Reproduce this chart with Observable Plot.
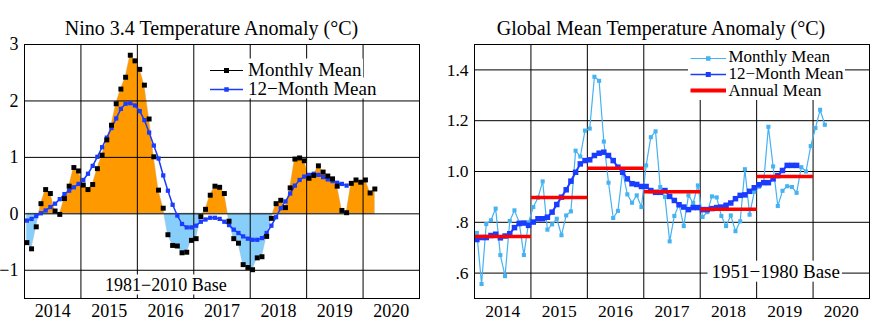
<!DOCTYPE html>
<html><head><meta charset="utf-8">
<script src="https://cdn.jsdelivr.net/npm/d3@7"></script>
<script src="https://cdn.jsdelivr.net/npm/@observablehq/plot@0.6"></script>
<style>
body{margin:0;background:#fff;}
#wrap{display:flex;width:896px;height:321px;overflow:hidden;}
#wrap svg{display:block;}
</style></head><body><div id="wrap"></div>
<script>
const FONT = "'Liberation Serif','Times New Roman',Times,serif";
const startYear = 2014;
const yearTicks = [2014, 2015, 2016, 2017, 2018, 2019, 2020];
const yearGrid = [2015, 2016, 2017, 2018, 2019, 2020];

// Nino 3.4 monthly anomaly, Jan 2014 - Mar 2020
const ninoMonthly = [
  -0.51, -0.62, -0.23, 0.18, 0.43, 0.36, 0.05, -0.01, 0.27, 0.49, 0.82, 0.76,
  0.51, 0.43, 0.52, 0.80, 1.04, 1.31, 1.57, 1.95, 2.21, 2.42, 2.81, 2.71,
  2.56, 2.28, 1.68, 1.01, 0.42, 0.10, -0.37, -0.56, -0.57, -0.69, -0.68, -0.47,
  -0.44, -0.05, 0.08, 0.33, 0.49, 0.47, 0.36, -0.13, -0.44, -0.52, -0.90, -0.95,
  -0.99, -0.78, -0.76, -0.40, -0.08, 0.18, 0.24, 0.11, 0.46, 0.97, 0.99, 0.94,
  0.63, 0.68, 0.85, 0.74, 0.67, 0.62, 0.49, 0.06, 0.02, 0.54, 0.60, 0.56,
  0.60, 0.37, 0.44
];
// Nino 3.4 12-month running mean, Jan 2014 - Sep 2019
const nino12 = [
  -0.12, -0.09, -0.04, 0.01, 0.06, 0.12, 0.18, 0.26, 0.35, 0.41, 0.47, 0.53,
  0.60, 0.71, 0.85, 1.01, 1.18, 1.35, 1.52, 1.69, 1.86, 1.95, 1.96, 1.92,
  1.82, 1.66, 1.44, 1.21, 0.98, 0.68, 0.41, 0.16, -0.03, -0.18, -0.24, -0.24,
  -0.21, -0.14, -0.10, -0.07, -0.07, -0.09, -0.14, -0.20, -0.28, -0.34, -0.40, -0.44,
  -0.46, -0.46, -0.43, -0.34, -0.21, -0.06, 0.10, 0.22, 0.36, 0.50, 0.60, 0.66,
  0.69, 0.71, 0.69, 0.65, 0.61, 0.58, 0.55, 0.53, 0.50
];
// Global mean monthly anomaly, Jan 2014 - Mar 2020
const globalMonthly = [
  0.758, 0.557, 0.793, 0.808, 0.854, 0.671, 0.588, 0.805, 0.847, 0.800, 0.671, 0.800,
  0.860, 0.897, 0.961, 0.771, 0.792, 0.814, 0.749, 0.827, 0.843, 1.082, 1.059, 1.161,
  1.169, 1.373, 1.357, 1.118, 0.956, 0.817, 0.845, 1.000, 0.910, 0.877, 0.906, 0.860,
  1.024, 1.135, 1.158, 0.939, 0.900, 0.725, 0.825, 0.871, 0.785, 0.906, 0.876, 0.945,
  0.821, 0.840, 0.902, 0.898, 0.825, 0.785, 0.827, 0.765, 0.804, 1.009, 0.830, 0.920,
  0.940, 0.958, 1.176, 1.020, 0.864, 0.924, 0.942, 0.939, 0.916, 1.017, 1.000, 1.100,
  1.171, 1.243, 1.184
];
// Global 12-month running mean
const global12 = [
  0.732, 0.740, 0.740, 0.748, 0.753, 0.739, 0.746, 0.755, 0.779, 0.795, 0.797, 0.788,
  0.801, 0.814, 0.814, 0.820, 0.840, 0.870, 0.899, 0.928, 0.962, 0.997, 1.030, 1.043,
  1.046, 1.063, 1.072, 1.076, 1.063, 1.043, 1.017, 0.997, 0.971, 0.952, 0.949, 0.941,
  0.941, 0.925, 0.918, 0.918, 0.925, 0.902, 0.886, 0.869, 0.860, 0.850, 0.858, 0.858,
  0.850, 0.850, 0.854, 0.858, 0.860, 0.867, 0.876, 0.893, 0.906, 0.908, 0.922, 0.936,
  0.948, 0.956, 0.956, 0.971, 0.984, 1.004, 1.024, 1.024, 1.024
];
// Global annual means
const annualYears = [2014, 2015, 2016, 2017, 2018, 2019];
const globalAnnual = [0.744, 0.898, 1.013, 0.920, 0.851, 0.980];

const ninoYTicks = [-1, 0, 1, 2, 3];
const globalYTicks = [0.6, 0.8, 1.0, 1.2, 1.4];

const monthly = arr => arr.map((v, i) => ({t: startYear + (i + 0.5) / 12, v}));
function splitSign(rows) {
  const pos = [], neg = [];
  rows.forEach((r, i) => {
    if (i > 0) {
      const p = rows[i - 1];
      if ((p.v > 0 && r.v < 0) || (p.v < 0 && r.v > 0)) {
        const tc = p.t + (r.t - p.t) * p.v / (p.v - r.v);
        pos.push({t: tc, v: 0}); neg.push({t: tc, v: 0});
      }
    }
    pos.push({t: r.t, v: Math.max(r.v, 0)});
    neg.push({t: r.t, v: Math.min(r.v, 0)});
  });
  return {pos, neg};
}

const nm = monthly(ninoMonthly), n12 = monthly(nino12);
const {pos, neg} = splitSign(nm);
const gm = monthly(globalMonthly), g12 = monthly(global12);
const ga = annualYears.map((y, i) => ({a: y, b: y + 1, v: globalAnnual[i]}));

const BLUE = "#1a3cff", LBLUE = "#45b2f2";

const left = Plot.plot({
  width: 440, height: 321,
  marginLeft: 24, marginRight: 21, marginTop: 44, marginBottom: 23,
  style: {fontFamily: FONT, fontSize: "18px", color: "black", background: "white"},
  x: {domain: [2014, 2021]},
  y: {domain: [-1.5, 3]},
  marks: [
    Plot.areaY(pos, {x: "t", y: "v", fill: "#ff9900", stroke: "#c8a070", strokeWidth: 0.4}),
    Plot.areaY(neg, {x: "t", y: "v", fill: "#87cefa", stroke: "#a0b8c8", strokeWidth: 0.4}),
    Plot.gridX(yearGrid, {stroke: "black", strokeOpacity: 1}),
    Plot.gridY(ninoYTicks, {stroke: "black", strokeOpacity: 1}),
    Plot.axisX(yearTicks.map(y => y + 0.5), {tickSize: 0, tickPadding: 6, label: null, fontSize: 18,
      tickFormat: d => String(Math.floor(d))}),
    Plot.axisY(ninoYTicks, {tickSize: 0, tickPadding: 6, label: null, fontSize: 18,
      tickFormat: d => d < 0 ? "\u2212" + Math.abs(d) : String(d)}),
    Plot.line(n12, {x: "t", y: "v", stroke: BLUE, strokeWidth: 1.5}),
    Plot.dot(n12, {x: "t", y: "v", symbol: "square", r: 2.4, fill: BLUE}),
    Plot.dot(nm, {x: "t", y: "v", symbol: "square", r: 2.8, fill: "black"}),
    Plot.frame({stroke: "black"}),
    Plot.text(["Nino 3.4 Temperature Anomaly (\u00B0C)"], {frameAnchor: "top", dx: -10.5, dy: -10,
      lineAnchor: "bottom", fontSize: 20})
  ]
});

const right = Plot.plot({
  width: 456, height: 321,
  marginLeft: 34, marginRight: 27, marginTop: 44, marginBottom: 23,
  style: {fontFamily: FONT, fontSize: "18px", color: "black", background: "white"},
  x: {domain: [2014, 2021]},
  y: {domain: [0.5, 1.5]},
  marks: [
    Plot.gridX(yearGrid, {stroke: "black", strokeOpacity: 1}),
    Plot.gridY(globalYTicks, {stroke: "black", strokeOpacity: 1}),
    Plot.axisX(yearTicks.map(y => y + 0.5), {tickSize: 0, tickPadding: 6, label: null, fontSize: 17.5,
      tickFormat: d => String(Math.floor(d))}),
    Plot.axisY(globalYTicks, {tickSize: 0, tickPadding: 6, label: null, fontSize: 17.5,
      tickFormat: d => d >= 1 ? d.toFixed(1) : d.toFixed(1).slice(1)}),
    Plot.line(gm, {x: "t", y: "v", stroke: LBLUE, strokeWidth: 1.2}),
    Plot.dot(gm, {x: "t", y: "v", symbol: "square", r: 2.3, fill: LBLUE}),
    Plot.line(g12, {x: "t", y: "v", stroke: BLUE, strokeWidth: 2}),
    Plot.dot(g12, {x: "t", y: "v", symbol: "square", r: 3.1, fill: BLUE}),
    Plot.link(ga, {x1: "a", x2: "b", y1: "v", y2: "v", stroke: "#ff0000", strokeWidth: 3.5}),
    Plot.frame({stroke: "black"}),
    Plot.text(["Global Mean Temperature Anomaly (\u00B0C)"], {frameAnchor: "top", dx: -11, dy: -10,
      lineAnchor: "bottom", fontSize: 20})
  ]
});

const wrap = document.getElementById("wrap");
wrap.appendChild(left);
wrap.appendChild(right);

function label(svg, x, y, str, size, bg, padL = 2, padR = 2) {
  const s = d3.select(svg);
  const t = s.append("text").attr("x", x).attr("y", y)
    .style("font-family", FONT).style("font-size", size + "px")
    .attr("fill", "black").attr("text-anchor", "start").text(str);
  if (bg) {
    const b = t.node().getBBox();
    s.insert("rect", () => t.node())
      .attr("x", b.x - padL).attr("y", b.y)
      .attr("width", b.width + padL + padR).attr("height", b.height)
      .attr("fill", "white");
  }
  return t;
}
function sample(svg, x1, x2, y, color, width, sq) {
  const s = d3.select(svg);
  s.append("line").attr("x1", x1).attr("x2", x2).attr("y1", y).attr("y2", y)
    .attr("stroke", color).attr("stroke-width", width);
  if (sq) {
    const c = (x1 + x2) / 2;
    s.append("rect").attr("x", c - sq / 2).attr("y", y - sq / 2)
      .attr("width", sq).attr("height", sq).attr("fill", color);
  }
}

// Left legend and note
label(left, 248, 75.5, "Monthly Mean", 19, true, 1, 1);
label(left, 248, 94.5, "12\u2212Month Mean", 19, true, 1, 1);
sample(left, 210, 243, 70.5, "black", 1, 5);
sample(left, 210, 243, 89.5, BLUE, 1.5, 4.5);
label(left, 105, 290.5, "1981\u22122010 Base", 18, true, 2, 2);

// Right legend and note
d3.select(right).append("rect").attr("x", 248).attr("y", 45).attr("width", 157).attr("height", 55).attr("fill", "white");
label(right, 288.5, 62, "Monthly Mean", 17, false);
label(right, 288.5, 79, "12\u2212Month Mean", 17, false);
label(right, 288.5, 96, "Annual Mean", 17, false);
sample(right, 250.5, 286, 58.5, LBLUE, 1.2, 4.5);
sample(right, 250.5, 286, 74.5, BLUE, 1.5, 5);
sample(right, 250.5, 286, 90.5, "#ff0000", 4, 0);
label(right, 271.5, 277.7, "1951\u22121980 Base", 19, true, 4, 2);
</script></body></html>
